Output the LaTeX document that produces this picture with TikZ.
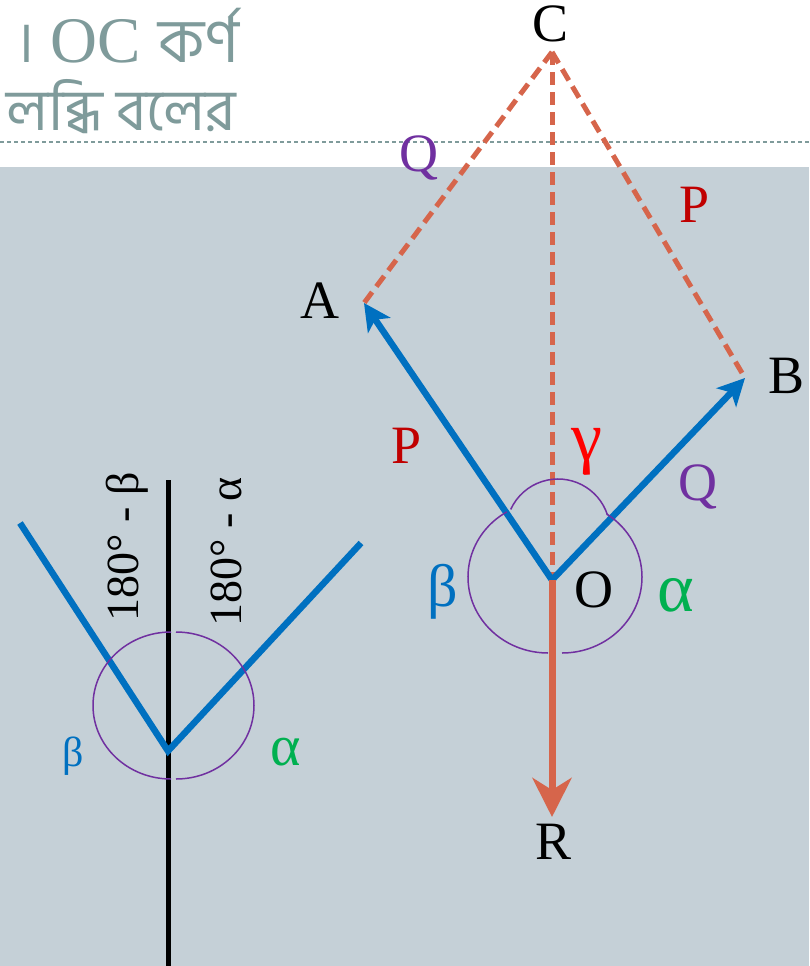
\documentclass[tikz,border=0pt]{standalone}
\usepackage{fontspec}
\newfontfamily\tnr{Liberation Serif}
\newfontfamily\bn[Script=Bengali]{Hind Siliguri}
\usetikzlibrary{arrows.meta}
\definecolor{bgray}{HTML}{C5D0D7}
\definecolor{vblue}{HTML}{0070C0}
\definecolor{rorange}{HTML}{D6654B}
\definecolor{pred}{HTML}{C00000}
\definecolor{gred}{HTML}{FF0000}
\definecolor{qpurple}{HTML}{7030A0}
\definecolor{agreen}{HTML}{00B050}
\definecolor{hdrteal}{HTML}{7F9B9B}
\begin{document}
\begin{tikzpicture}[x=1pt,y=1pt,
  lab/.style={inner sep=0pt, font=\tnr\fontsize{54}{60}\selectfont},
  blab/.style={inner sep=0pt, font=\tnr\fontsize{60}{66}\selectfont},
  glab/.style={inner sep=0pt, font=\tnr\fontsize{70}{76}\selectfont},
  rlab/.style={inner sep=0pt, rotate=90, font=\tnr\fontsize{46}{50}\selectfont},
  hdr/.style={inner sep=0pt, anchor=base west, text=hdrteal},
  bvec/.style={line width=6.5pt, draw=vblue, line join=miter,
     {Stealth[length=27pt,width=27pt,inset=7pt]}-{Stealth[length=27pt,width=27pt,inset=7pt]}},
  cons/.style={line width=5pt, draw=rorange, dash pattern=on 13pt off 7pt},
  angarc/.style={draw=qpurple, line width=1.5pt},
]
\useasboundingbox (0,0) rectangle (809,-966);
\fill[white] (0,0) rectangle (809,-966);
\fill[bgray] (0,-167) rectangle (809,-966);
\draw[hdrteal, line width=1.5pt, dash pattern=on 4pt off 3pt] (0,-142) -- (809,-142);

% header text
\node[hdr, font=\bn\fontsize{58}{60}\selectfont] (h1) at (16,-63) {।};
\node[hdr, font=\tnr\fontsize{65}{70}\selectfont] (h2) at (50,-63) {OC};
\node[hdr, font=\bn\fontsize{62}{60}\selectfont] (h3) at (158,-63) {কর্ণ};
\node[hdr, font=\bn\fontsize{58}{60}\selectfont] (h4) at (6,-130) {লব্ধি বলের};

% right diagram points
\coordinate (O) at (552,-580);
\coordinate (A) at (364,-303);
\coordinate (B) at (745,-378);
\coordinate (C) at (552,-52);
\coordinate (Rt) at (552,-817);

\draw[cons] (C) -- (A);
\draw[cons] (C) -- (B);
\draw[cons] (C) -- (O);
\draw[bvec] (A) -- (O) -- (B);
\draw[line width=7pt, rorange, -{Stealth[length=39pt,width=39pt,inset=12pt]}] (O) -- (Rt);

\draw[angarc] (548,-577) ++(121:80pt and 76pt) arc[start angle=121, end angle=270, x radius=80pt, y radius=76pt];
\draw[angarc] (562,-577) ++(-90:80pt and 76pt) arc[start angle=-90, end angle=56, x radius=80pt, y radius=76pt];
\draw[angarc] (558,-531) ++(17.7:52pt) arc[start angle=17.7, end angle=155.5, radius=52pt];

% left diagram
\coordinate (V) at (168,-751);
\coordinate (L1) at (20,-523);
\coordinate (L2) at (361,-543);
\coordinate (T) at (168,-480);
\coordinate (Bt) at (168,-966);
\draw[black, line width=5pt] (T) -- (Bt);
\draw[vblue, line width=6.5pt, line join=miter] (L1) -- (V) -- (L2);
\draw[angarc] (171,-705.5) ++(90:78pt and 73.5pt) arc[start angle=90, end angle=270, x radius=78pt, y radius=73.5pt];
\draw[angarc] (176,-705.5) ++(90:78pt and 73.5pt) arc[start angle=90, end angle=-90, x radius=78pt, y radius=73.5pt];

% labels
\node[lab] (lC) at (551,-24) {C};
\node[lab] (lA) at (320,-301) {A};
\node[lab] (lB) at (786,-376) {B};
\node[lab] (lR) at (554,-842) {R};
\node[lab] (lO) at (594,-590) {O};
\node[lab, text=pred] (lP1) at (695,-205) {P};
\node[lab, text=pred] (lP2) at (407,-446) {P};
\node[lab, text=qpurple] (lQ1) at (419,-158) {Q};
\node[lab, text=qpurple] (lQ2) at (698,-487) {Q};
\node[glab, text=gred] (lg) at (587,-452) {γ};
\node[blab, text=vblue] (lb) at (443,-592) {β};
\node[glab, text=agreen] (la) at (676,-595) {α};
\node[inner sep=0pt, font=\tnr\fontsize{42}{46}\selectfont, text=vblue] (lb2) at (73,-756) {β};
\node[inner sep=0pt, font=\tnr\fontsize{58}{62}\selectfont, text=agreen] (la2) at (286,-752) {α};
\node[rlab] (r1) at (127,-547) {180° - β};
\node[rlab] (r2) at (226,-552) {180° - α};
\end{tikzpicture}
\end{document}
